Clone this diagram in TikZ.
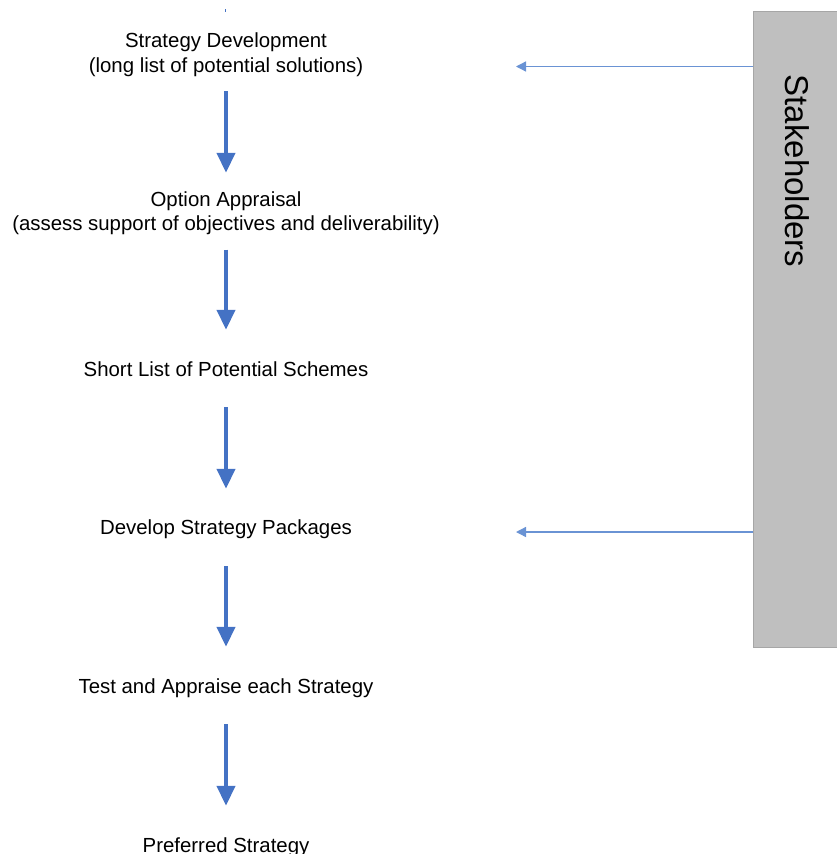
\documentclass[tikz,border=0pt]{standalone}
\usepackage{fontspec}
\setmainfont{Liberation Sans}
\usetikzlibrary{arrows.meta}
\definecolor{arrblue}{HTML}{4472C4}
\definecolor{thinblue}{HTML}{6A93D4}
\definecolor{boxgrey}{HTML}{BFBFBF}
\definecolor{boxline}{HTML}{A6A6A6}
\tikzset{
  stepbox/.style={inner sep=0pt, align=center, text height=15pt, text depth=5pt,
    font=\fontsize{20.4}{24.5}\selectfont},
  bigarrow/.style={draw=arrblue, line width=4pt, -{Triangle[width=18pt,length=20pt]}},
  thinarrow/.style={draw=thinblue, line width=1.3pt, -{Triangle[width=10pt,length=10pt]}},
}
\begin{document}
\begin{tikzpicture}[x=1pt,y=-1pt]
\useasboundingbox (0,0) rectangle (836,854);
% stray mark at top
\fill[arrblue] (224.5,9) rectangle (226,12);
% stakeholders box
\node[draw=boxline, fill=boxgrey, line width=0.8pt, minimum width=90pt, minimum height=636pt, inner sep=0pt, anchor=north west] (stk) at (753,11) {};
\node[rotate=-90, font=\fontsize{33}{33}\selectfont, inner sep=0pt] (stklabel) at (797,171) {Stakeholders};
% steps
\node[stepbox] (s1) at (226,67) {Strategy Development\\(long list of potential solutions)};
\node[stepbox] (s2) at (226,225.5) {Option Appraisal\\(assess support of objectives and deliverability)};
\node[stepbox] (s3) at (226,371) {Short List of Potential Schemes};
\node[stepbox] (s4) at (226,529) {Develop Strategy Packages};
\node[stepbox] (s5) at (226,688) {Test and Appraise each Strategy};
\node[stepbox] (s6) at (226,847) {Preferred Strategy};
% main arrows
\draw[bigarrow, shorten <=14pt, shorten >=42.5pt] (s1.south) -- (s2.north);
\draw[bigarrow, shorten <=14pt, shorten >=31pt] (s2.south) -- (s3.north);
\draw[bigarrow, shorten <=26pt, shorten >=30pt] (s3.south) -- (s4.north);
\draw[bigarrow, shorten <=27pt, shorten >=31pt] (s4.south) -- (s5.north);
\draw[bigarrow, shorten <=26pt, shorten >=31pt] (s5.south) -- (s6.north);
% stakeholder arrows
\coordinate (c1) at (516,66.5);
\coordinate (c2) at (516,532);
\draw[thinarrow] (stk.west |- c1) -- (c1);
\draw[thinarrow] (stk.west |- c2) -- (c2);
\end{tikzpicture}
\end{document}
